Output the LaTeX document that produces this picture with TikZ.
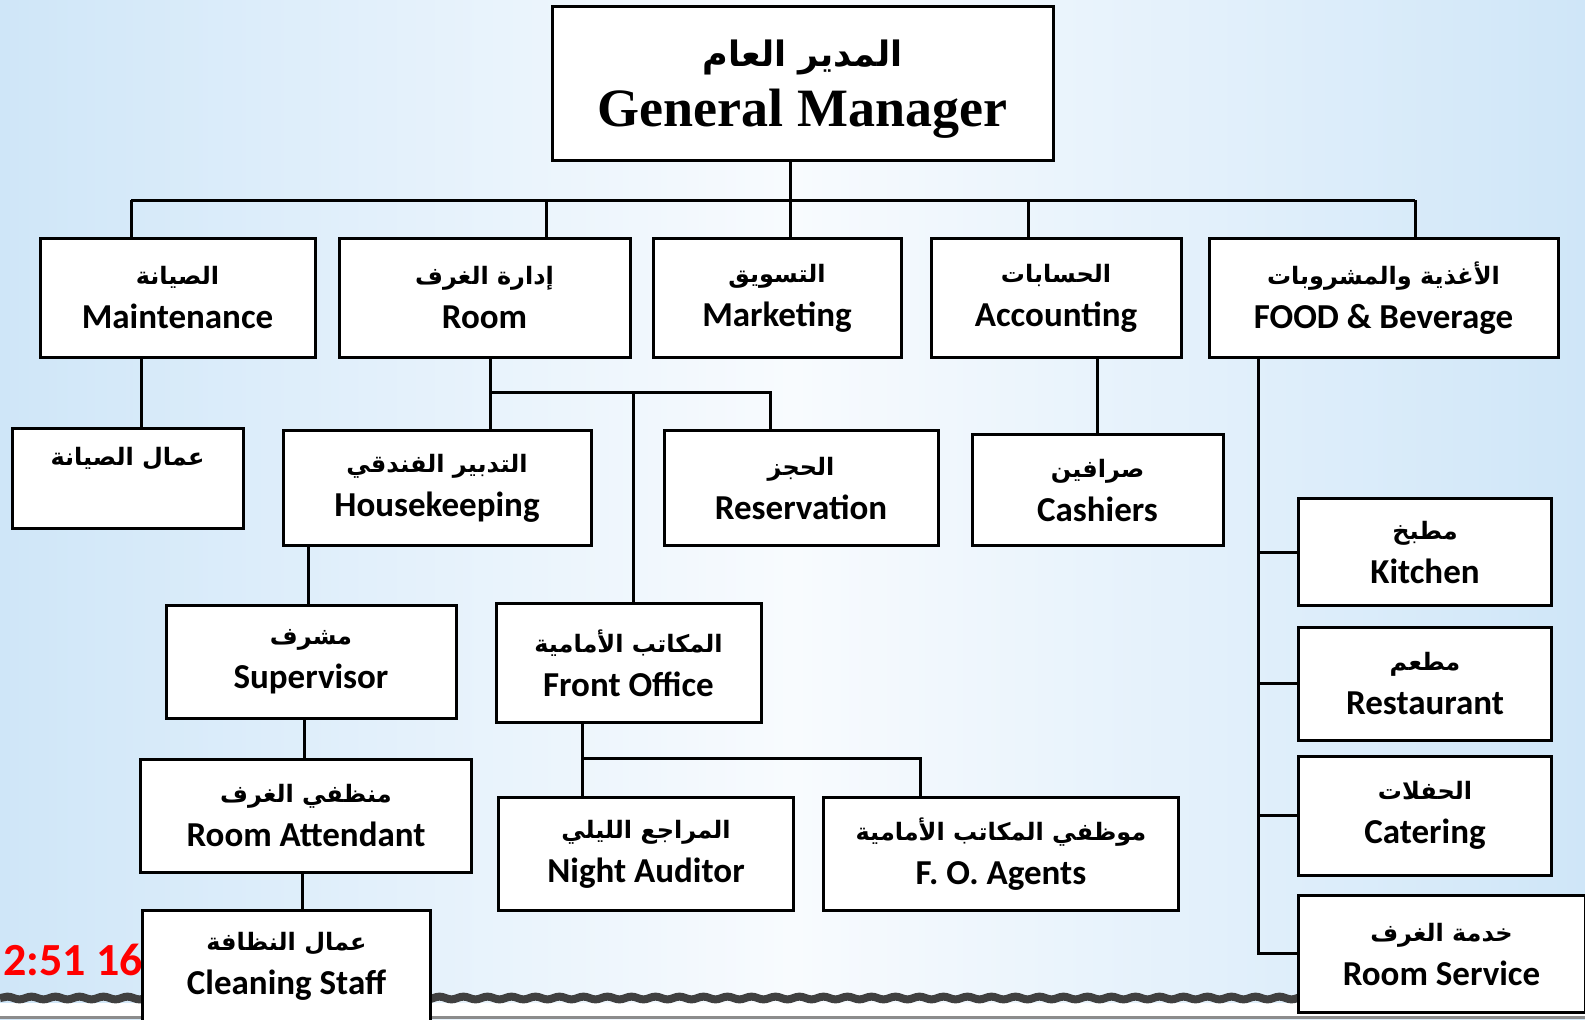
\documentclass[tikz,border=0pt]{standalone}
\usepackage{fontspec}
\usetikzlibrary{decorations.pathmorphing}
\TeXXeTstate=1
\newfontfamily\arabicfont[Script=Arabic]{DejaVu Sans}
\newfontfamily\enfont{Carlito}
\newfontfamily\gmfont{Liberation Serif}
\definecolor{bgblue}{HTML}{CFE6F8}
\definecolor{bglight}{HTML}{F8FBFE}
\newcommand{\dept}[2]{{\arabicfont\fontsize{12}{22}\selectfont\beginR #1\endR}\\{\enfont #2}}
\tikzset{
  unit/.style 2 args={draw=black, line width=1.5pt, fill=white, align=center, inner sep=0pt,
    minimum width=#1pt/2, minimum height=#2pt/2, font=\bfseries\fontsize{17.5}{22}\selectfont},
  link/.style={line width=1.5pt},
}
\begin{document}
\begin{tikzpicture}[x=0.5pt, y=-0.5pt]
      \useasboundingbox (0,0) rectangle (1585,1019);
      \clip (0,0) rectangle (1585,1019);
      \shade[left color=bgblue, right color=bgblue, middle color=bglight] (0,0) rectangle (1585,1019);
      % strip at the bottom
      \fill[white] (0,1003) rectangle (1585,1019);
      \draw[black!75, line width=4pt, decorate, decoration={snake, amplitude=0.7pt, segment length=12pt}] (0,998) -- (1585,998);
      \draw[black!45, line width=1.5pt] (0,1017) -- (1585,1017);
      \node[anchor=west, inner sep=0pt, text=red, font=\enfont\bfseries\fontsize{23}{23}\selectfont] (clock) at (3,960) {2:51 16};

      \node[unit={501}{154}, text depth=0pt, font=\gmfont\bfseries\fontsize{27}{30}\selectfont] (gm) at (802.5,83)
        {{\arabicfont\fontsize{17.5}{30}\selectfont\beginR المدير العام\endR}\\General Manager};
      \node[unit={275}{119.5}] (maint) at (177.5,298) {\dept{الصيانة}{Maintenance}};
      \node[unit={291}{119.5}] (room)  at (484.5,298) {\dept{إدارة الغرف}{Room}};
      \node[unit={248}{119.5}] (mkt)   at (777,298)   {\dept{التسويق}{Marketing}};
      \node[unit={250}{119.5}] (acc)   at (1056,298)  {\dept{الحسابات}{Accounting}};
      \node[unit={349}{119.5}] (fb)    at (1383.5,298) {\dept{الأغذية والمشروبات}{FOOD \& Beverage}};

      \node[unit={231}{100}]   (mworkers) at (127.5,478) {\dept{عمال الصيانة}{\phantom{X}}};
      \node[unit={308}{115.5}] (hk)     at (437,488)    {\dept{التدبير الفندقي}{Housekeeping}};
      \node[unit={274}{115.5}] (resv)   at (801,488)    {\dept{الحجز}{Reservation}};
      \node[unit={251}{111.5}] (cash)   at (1097.5,490) {\dept{صرافين}{Cashiers}};
      \node[unit={290}{113}]   (sup)    at (311,662)    {\dept{مشرف}{Supervisor}};
      \node[unit={265}{119.5}] (fo)     at (628.5,663)  {\dept{المكاتب الأمامية}{Front Office}};
      \node[unit={330.5}{113}] (att)    at (306,815.5)  {\dept{منظفي الغرف}{Room Attendant}};
      \node[unit={288}{113}]   (clean)  at (286.5,966.5) {\dept{عمال النظافة}{Cleaning Staff}};
      \node[unit={295.5}{112.5}] (night)  at (646,854)  {\dept{المراجع الليلي}{Night Auditor}};
      \node[unit={355.5}{112.5}] (agents) at (1001,854) {\dept{موظفي المكاتب الأمامية}{F. O. Agents}};

      \node[unit={253.5}{107.5}] (kitchen) at (1425,552)   {\dept{مطبخ}{Kitchen}};
      \node[unit={253.5}{113}]   (rest)    at (1425,683.5) {\dept{مطعم}{Restaurant}};
      \node[unit={253.5}{119}]   (cater)   at (1425,815.5) {\dept{الحفلات}{Catering}};
      \node[unit={287}{117.5}]   (rserv)   at (1441.5,954) {\dept{خدمة الغرف}{Room Service}};

      % top bus
      \coordinate (bus) at (790.5,200);
      \coordinate (tM) at (131,200);
      \coordinate (tR) at (546,200);
      \coordinate (tA) at (1028,200);
      \coordinate (tF) at (1415,200);
      \draw[link] (bus |- gm.south) -- (bus);
      \draw[link] (tM) -- (tF);
      \foreach \t/\n in {tM/maint, tR/room, bus/mkt, tA/acc, tF/fb}
        \draw[link] (\t) -- (\t |- \n.north);

      % joints
      \coordinate (jM) at (141.5,400);
      \coordinate (jR) at (490,392);
      \coordinate (jF) at (633,392);
      \coordinate (jV) at (770,392);
      \coordinate (jH) at (308,580);
      \coordinate (jS) at (304,740);
      \coordinate (jT) at (302,890);
      \coordinate (jO) at (582,758);
      \coordinate (jG) at (920,758);
      \coordinate (jA) at (1097,400);
      \coordinate (jB) at (1258.5,953);

      \draw[link] (jM |- maint.south) -- (jM |- mworkers.north);
      \draw[link] (jR |- room.south) -- (jR) -- (jR |- hk.north);
      \draw[link] (jR) -- (jV) -- (jV |- resv.north);
      \draw[link] (jF) -- (jF |- fo.north);
      \draw[link] (jH |- hk.south) -- (jH |- sup.north);
      \draw[link] (jS |- sup.south) -- (jS |- att.north);
      \draw[link] (jT |- att.south) -- (jT |- clean.north);
      \draw[link] (jO |- fo.south) -- (jO) -- (jG) -- (jG |- agents.north);
      \draw[link] (jO) -- (jO |- night.north);
      \draw[link] (jA |- acc.south) -- (jA |- cash.north);
      \draw[link] (jB |- fb.south) -- (jB) -- (jB -| rserv.west);
      \foreach \n in {kitchen, rest, cater}
        \draw[link] (jB |- \n.west) -- (\n.west);
    \end{tikzpicture}
\end{document}
